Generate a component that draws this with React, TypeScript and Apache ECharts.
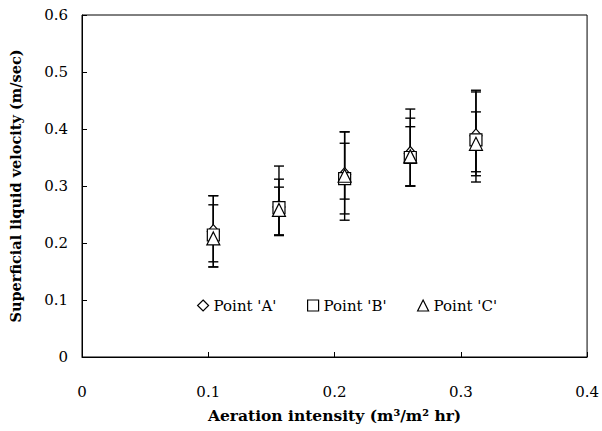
import React, { useEffect, useRef } from "react";
import * as echarts from "echarts";

const xVals = [0.104, 0.156, 0.208, 0.26, 0.312];

const seriesNames = ["Point 'A'", "Point 'B'", "Point 'C'"];
const symbols = ["diamond", "rect", "triangle"];

const valuesA = [0.22, 0.263, 0.32, 0.357, 0.388];
const valuesB = [0.214, 0.262, 0.313, 0.35, 0.381];
const valuesC = [0.208, 0.258, 0.318, 0.352, 0.374];

const highA = [0.283, 0.335, 0.395, 0.435, 0.468];
const lowA = [0.158, 0.214, 0.24, 0.3, 0.307];
const highB = [0.267, 0.312, 0.395, 0.419, 0.465];
const lowB = [0.167, 0.214, 0.251, 0.3, 0.325];
const highC = [0.283, 0.298, 0.375, 0.404, 0.43];
const lowC = [0.158, 0.213, 0.277, 0.3, 0.318];

const FONT = "DejaVu Serif";
const TITLE_FONT = "DejaVu Serif";

export default function App() {
  const ref = useRef<HTMLDivElement>(null);
  useEffect(() => {
    if (!ref.current) return;
    const chart = echarts.init(ref.current, undefined, { renderer: "svg" });
    const vals = [valuesA, valuesB, valuesC];
    const highs = [highA, highB, highC];
    const lows = [lowA, lowB, lowC];

    const errSeries = vals.map((_, i) => ({
      type: "custom",
      name: "err" + i,
      z: 2,
      data: xVals.map((x, j) => [x, lows[i][j], highs[i][j]]),
      encode: { x: 0, y: [1, 2] },
      renderItem: (params: any, api: any) => {
        const x = api.value(0);
        const lo = api.coord([x, api.value(1)]);
        const hi = api.coord([x, api.value(2)]);
        const hw = 5;
        const st = { stroke: "#000", lineWidth: 1.4 };
        return {
          type: "group",
          children: [
            { type: "line", shape: { x1: lo[0], y1: lo[1], x2: hi[0], y2: hi[1] }, style: st },
            { type: "line", shape: { x1: lo[0] - hw, y1: lo[1], x2: lo[0] + hw, y2: lo[1] }, style: st },
            { type: "line", shape: { x1: hi[0] - hw, y1: hi[1], x2: hi[0] + hw, y2: hi[1] }, style: st },
          ],
        };
      },
    }));

    const sizes: any[] = [[12, 14], 12, [13, 13]];
    const scatterSeries = vals.map((v, i) => ({
      type: "scatter",
      name: seriesNames[i],
      symbol: symbols[i],
      symbolSize: sizes[i],
      z: 3 + i,
      itemStyle: { color: "#fff", borderColor: "#000", borderWidth: 1.2, opacity: 1 },
      data: xVals.map((x, j) => [x, v[j]]),
    }));

    const legendLefts = [192, 302, 412];
    const legends = seriesNames.map((n, i) => ({
      data: [n],
      left: legendLefts[i],
      top: 293,
      itemWidth: 11,
      itemHeight: 11,
      itemGap: 5,
      textStyle: { fontFamily: FONT, fontSize: 15, color: "#000" },
      itemStyle: { color: "#fff", borderColor: "#000", borderWidth: 1.2 },
    }));

    chart.setOption({
      animation: false,
      backgroundColor: "#fff",
      textStyle: { fontFamily: FONT },
      grid: {
        left: 77,
        right: 12,
        top: 15,
        bottom: 74,
        show: true,
        borderColor: "#000",
        borderWidth: 1,
        backgroundColor: "transparent",
      },
      legend: legends,
      xAxis: {
        type: "value",
        min: 0,
        max: 0.4,
        interval: 0.1,
        name: "Aeration intensity (m³/m² hr)",
        nameLocation: "middle",
        nameGap: 50,
        nameTextStyle: { fontFamily: TITLE_FONT, fontSize: 15.5, fontWeight: "bold", color: "#000" },
        axisLine: { show: true, lineStyle: { color: "#000", width: 1 } },
        axisTick: { show: true, inside: true, length: 5, lineStyle: { color: "#000" } },
        splitLine: { show: false },
        axisLabel: { fontFamily: FONT, fontSize: 15, color: "#000", margin: 27 },
      },
      yAxis: {
        type: "value",
        min: 0,
        max: 0.6,
        interval: 0.1,
        name: "Superficial liquid velocity (m/sec)",
        nameLocation: "middle",
        nameGap: 59,
        nameTextStyle: { fontFamily: TITLE_FONT, fontSize: 14.5, fontWeight: "bold", color: "#000" },
        axisLine: { show: true, lineStyle: { color: "#000", width: 1 } },
        axisTick: { show: true, inside: true, length: 5, lineStyle: { color: "#000" } },
        splitLine: { show: false },
        axisLabel: { fontFamily: FONT, fontSize: 15, color: "#000", margin: 14 },
      },
      series: [...errSeries, ...scatterSeries],
    });
    return () => chart.dispose();
  }, []);
  return (
    <div
      ref={ref}
      style={{ position: "fixed", left: 0, top: 0, width: 602, height: 431 }}
    />
  );
}
